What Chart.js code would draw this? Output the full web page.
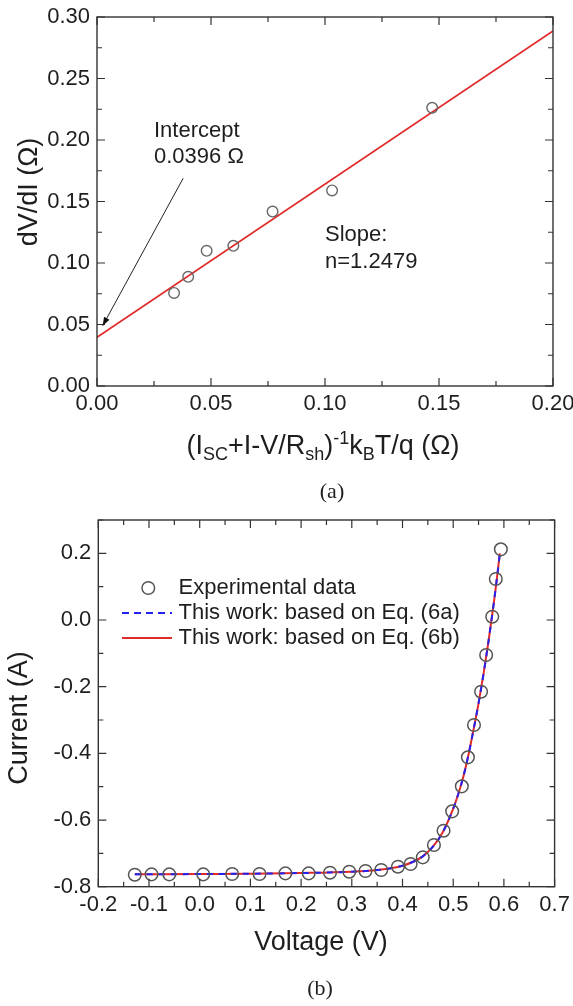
<!DOCTYPE html>
<html><head><meta charset="utf-8">
<script src="https://cdn.jsdelivr.net/npm/chart.js@4.4.0/dist/chart.umd.min.js"></script>
<style>
html,body{margin:0;padding:0;background:#fff;}
body{width:573px;height:1006px;position:relative;overflow:hidden;}
#c1{position:absolute;left:0;top:0;}
#c2{position:absolute;left:0;top:500px;}
</style></head><body>
<canvas id="c1" width="573" height="510"></canvas>
<canvas id="c2" width="573" height="506"></canvas>
<script>
// ---------- Data: panel (a) ----------
const slopePtsX = [0.0338, 0.0400, 0.0481, 0.0598, 0.0770, 0.1031, 0.1470];
const slopePtsY = [0.0757, 0.0888, 0.1099, 0.1140, 0.1418, 0.1590, 0.2262];
const slopeFitX = [0.0, 0.2];
const slopeFitY = [0.0396, 0.2887];
const aXTicks = [0, 0.05, 0.10, 0.15, 0.20];
const aXTickLabels = ['0.00', '0.05', '0.10', '0.15', '0.20'];
const aYTicks = [0, 0.05, 0.10, 0.15, 0.20, 0.25, 0.30];
const aYTickLabels = ['0.00', '0.05', '0.10', '0.15', '0.20', '0.25', '0.30'];
const noteIntercept = ['Intercept', '0.0396 \u03A9'];
const noteSlope = ['Slope:', 'n=1.2479'];

// ---------- Data: panel (b) ----------
const expV = [-0.128, -0.095, -0.060, 0.007, 0.064, 0.118, 0.169, 0.215, 0.257, 0.295, 0.327, 0.358, 0.391, 0.416, 0.440, 0.462, 0.481, 0.498, 0.517, 0.529, 0.541, 0.555, 0.565, 0.577, 0.584, 0.594];
const expI = [-0.764, -0.763, -0.763, -0.763, -0.762, -0.762, -0.760, -0.760, -0.758, -0.755, -0.753, -0.750, -0.740, -0.732, -0.712, -0.675, -0.632, -0.574, -0.499, -0.412, -0.315, -0.215, -0.105, 0.010, 0.123, 0.212];
const fitV = [-0.128, 0.0, 0.1, 0.2, 0.3, 0.35, 0.38, 0.40, 0.42, 0.44, 0.46, 0.48, 0.50, 0.51, 0.52, 0.53, 0.54, 0.55, 0.56, 0.57, 0.58, 0.585, 0.592];
const fit6a = [-0.763, -0.762, -0.761, -0.759, -0.755, -0.750, -0.744, -0.737, -0.726, -0.709, -0.680, -0.635, -0.566, -0.522, -0.470, -0.405, -0.330, -0.250, -0.160, -0.060, 0.050, 0.110, 0.200];
const fit6b = [-0.763, -0.762, -0.761, -0.759, -0.755, -0.750, -0.744, -0.737, -0.726, -0.709, -0.680, -0.635, -0.566, -0.522, -0.470, -0.405, -0.330, -0.250, -0.160, -0.060, 0.050, 0.110, 0.200];
const bXTicks = [-0.2, -0.1, 0.0, 0.1, 0.2, 0.3, 0.4, 0.5, 0.6, 0.7];
const bXTickLabels = ['-0.2', '-0.1', '0.0', '0.1', '0.2', '0.3', '0.4', '0.5', '0.6', '0.7'];
const bYTicks = [-0.8, -0.6, -0.4, -0.2, 0.0, 0.2];
const bYTickLabels = ['-0.8', '-0.6', '-0.4', '-0.2', '0.0', '0.2'];
const legendLabels = ['Experimental data', 'This work: based on Eq. (6a)', 'This work: based on Eq. (6b)'];

// ---------- Layout / style (not data) ----------
const SANS = '"Liberation Sans", Arial, sans-serif';
const SERIF = '"Liberation Serif", "Times New Roman", serif';
const TXT = '#1e1e1e';
const annoA = {
  arrowFrom: [0.0378, 0.1689], arrowTo: [0.0025, 0.0490],
  intercept: [0.025, 0.2073, 0.1864],
  slope: [0.1, 0.1228, 0.1011]
};

function pts(xs, ys) { return xs.map((x, i) => ({x: x, y: ys[i]})); }
function labelFor(ticks, labels) {
  return function (v) {
    for (let i = 0; i < ticks.length; i++) if (Math.abs(v - ticks[i]) < 1e-7) return labels[i];
    return '';
  };
}
function isMajor(ticks, v) {
  return ticks.some(t => Math.abs(v - t) < 1e-7);
}

function drawFrame(chart, xMaj, yMaj) {
  const ctx = chart.ctx, a = chart.chartArea;
  const xs = chart.scales.x, ys = chart.scales.y;
  ctx.save();
  ctx.strokeStyle = '#333';
  ctx.lineWidth = 1.4;
  ctx.strokeRect(a.left, a.top, a.right - a.left, a.bottom - a.top);
  ctx.lineWidth = 1.2;
  ctx.beginPath();
  xs.ticks.forEach(t => {
    const p = xs.getPixelForValue(t.value);
    const L = isMajor(xMaj, t.value) ? 8 : 5;
    ctx.moveTo(p, a.bottom); ctx.lineTo(p, a.bottom - L);
    ctx.moveTo(p, a.top); ctx.lineTo(p, a.top + L);
  });
  ys.ticks.forEach(t => {
    const p = ys.getPixelForValue(t.value);
    const L = isMajor(yMaj, t.value) ? 8 : 5;
    ctx.moveTo(a.left, p); ctx.lineTo(a.left + L, p);
    ctx.moveTo(a.right, p); ctx.lineTo(a.right - L, p);
  });
  ctx.stroke();
  ctx.restore();
}

function rotText(ctx, text, x, y) {
  ctx.save();
  ctx.translate(x, y);
  ctx.rotate(-Math.PI / 2);
  ctx.textAlign = 'center';
  ctx.textBaseline = 'middle';
  ctx.fillText(text, 0, 0);
  ctx.restore();
}

// rich text with sub/superscripts: parts [text, mode]
function richText(ctx, parts, cx, y, big, small) {
  let w = 0;
  parts.forEach(p => {
    ctx.font = (p[1] === 'n' ? big : small) + 'px ' + SANS;
    w += ctx.measureText(p[0]).width;
  });
  let x = cx - w / 2;
  ctx.textAlign = 'left';
  ctx.textBaseline = 'alphabetic';
  parts.forEach(p => {
    ctx.font = (p[1] === 'n' ? big : small) + 'px ' + SANS;
    let dy = 0;
    if (p[1] === 'sub') dy = 6;
    if (p[1] === 'sup') dy = -10;
    ctx.fillText(p[0], x, y + dy);
    x += ctx.measureText(p[0]).width;
  });
}

const tickFont = {family: SANS, size: 22};

function axisCommon(min, max, step, ticks, labels, isX, size, pad) {
  return {
    type: 'linear', min: min, max: max,
    grid: {display: false, drawTicks: false},
    border: {display: false},
    ticks: {
      stepSize: step, autoSkip: false, maxRotation: 0, minRotation: 0, maxTicksLimit: 200,
      font: tickFont, color: TXT, padding: pad,
      callback: labelFor(ticks, labels)
    },
    afterFit: function (s) {
      if (isX) { s.height = size; s.paddingLeft = 0; s.paddingRight = 0; }
      else { s.width = size; s.paddingTop = 0; s.paddingBottom = 0; }
    }
  };
}

// ---------- Chart (a) ----------
const pluginA = {
  id: 'panelA',
  afterDraw(chart) {
    const ctx = chart.ctx, a = chart.chartArea;
    const xs = chart.scales.x, ys = chart.scales.y;
    drawFrame(chart, aXTicks, aYTicks);
    ctx.save();
    ctx.fillStyle = TXT;
    ctx.font = '22px ' + SANS;
    ctx.textAlign = 'left';
    ctx.textBaseline = 'middle';
    ctx.fillText(noteIntercept[0], xs.getPixelForValue(annoA.intercept[0]), ys.getPixelForValue(annoA.intercept[1]));
    ctx.fillText(noteIntercept[1], xs.getPixelForValue(annoA.intercept[0]), ys.getPixelForValue(annoA.intercept[2]));
    ctx.fillText(noteSlope[0], xs.getPixelForValue(annoA.slope[0]), ys.getPixelForValue(annoA.slope[1]));
    ctx.fillText(noteSlope[1], xs.getPixelForValue(annoA.slope[0]), ys.getPixelForValue(annoA.slope[2]));
    // arrow
    const x1 = xs.getPixelForValue(annoA.arrowFrom[0]), y1 = ys.getPixelForValue(annoA.arrowFrom[1]);
    const x2 = xs.getPixelForValue(annoA.arrowTo[0]), y2 = ys.getPixelForValue(annoA.arrowTo[1]);
    ctx.strokeStyle = '#222'; ctx.lineWidth = 1;
    ctx.beginPath(); ctx.moveTo(x1, y1); ctx.lineTo(x2, y2); ctx.stroke();
    const ang = Math.atan2(y2 - y1, x2 - x1);
    ctx.fillStyle = '#111';
    ctx.beginPath();
    ctx.moveTo(x2, y2);
    ctx.lineTo(x2 - 9 * Math.cos(ang - 0.35), y2 - 9 * Math.sin(ang - 0.35));
    ctx.lineTo(x2 - 9 * Math.cos(ang + 0.35), y2 - 9 * Math.sin(ang + 0.35));
    ctx.closePath(); ctx.fill();
    // titles
    ctx.fillStyle = TXT;
    ctx.font = '27px ' + SANS;
    rotText(ctx, 'dV/dI (\u03A9)', 30, 192);
    richText(ctx, [['(I', 'n'], ['SC', 'sub'], ['+I-V/R', 'n'], ['sh', 'sub'], [')', 'n'], ['-1', 'sup'], ['k', 'n'], ['B', 'sub'], ['T/q (\u03A9)', 'n']],
      (a.left + a.right) / 2 - 2, 454, 27, 18);
    ctx.font = '22px ' + SERIF;
    ctx.textAlign = 'center'; ctx.textBaseline = 'middle';
    ctx.fillText('(a)', 332, 492);
    ctx.restore();
  }
};

new Chart(document.getElementById('c1'), {
  type: 'scatter',
  data: {
    datasets: [
      {data: pts(slopePtsX, slopePtsY), showLine: false, pointRadius: 5.3, pointHoverRadius: 5.3,
        pointBorderColor: '#666', pointBackgroundColor: 'rgba(0,0,0,0)', pointBorderWidth: 1.4, order: 1},
      {data: pts(slopeFitX, slopeFitY), showLine: true, pointRadius: 0, borderColor: '#e02a2a',
        borderWidth: 1.7, order: 2}
    ]
  },
  options: {
    responsive: false, animation: false, devicePixelRatio: 1,
    layout: {padding: {top: 17, right: 20, left: 0, bottom: 0}},
    plugins: {legend: {display: false}, tooltip: {enabled: false}},
    scales: {
      x: axisCommon(0, 0.2, 0.025, aXTicks, aXTickLabels, true, 124, 5),
      y: axisCommon(0, 0.3, 0.025, aYTicks, aYTickLabels, false, 97, 7)
    }
  },
  plugins: [pluginA]
});

// ---------- Chart (b) ----------
const pluginB = {
  id: 'panelB',
  afterDraw(chart) {
    const ctx = chart.ctx, a = chart.chartArea;
    drawFrame(chart, bXTicks, bYTicks);
    ctx.save();
    // legend
    ctx.strokeStyle = '#555'; ctx.lineWidth = 1.5;
    ctx.beginPath(); ctx.arc(148.3, 88, 6.3, 0, Math.PI * 2); ctx.stroke();
    ctx.strokeStyle = '#2222ee'; ctx.lineWidth = 2; ctx.setLineDash([7, 5]);
    ctx.beginPath(); ctx.moveTo(122, 113); ctx.lineTo(172, 113); ctx.stroke();
    ctx.setLineDash([]);
    ctx.strokeStyle = '#e02a2a';
    ctx.beginPath(); ctx.moveTo(122, 138); ctx.lineTo(172, 138); ctx.stroke();
    ctx.fillStyle = TXT;
    ctx.font = '22px ' + SANS;
    ctx.textAlign = 'left'; ctx.textBaseline = 'middle';
    ctx.fillText(legendLabels[0], 178.5, 88);
    ctx.fillText(legendLabels[1], 178.5, 113);
    ctx.fillText(legendLabels[2], 178.5, 138);
    // titles
    ctx.font = '27px ' + SANS;
    rotText(ctx, 'Current (A)', 20, 218);
    ctx.textAlign = 'center'; ctx.textBaseline = 'middle';
    ctx.fillText('Voltage (V)', 321, 443);
    ctx.font = '22px ' + SERIF;
    ctx.fillText('(b)', 320, 489);
    ctx.restore();
  }
};

new Chart(document.getElementById('c2'), {
  type: 'scatter',
  data: {
    datasets: [
      {data: pts(expV, expI), showLine: false, pointRadius: 6.3, pointHoverRadius: 6.3,
        pointBorderColor: '#555', pointBackgroundColor: 'rgba(0,0,0,0)', pointBorderWidth: 1.5, order: 1},
      {data: pts(fitV, fit6a), showLine: true, pointRadius: 0, borderColor: '#2222ee', borderWidth: 2,
        borderDash: [6, 6], cubicInterpolationMode: 'monotone', order: 2},
      {data: pts(fitV, fit6b), showLine: true, pointRadius: 0, borderColor: '#e02a2a', borderWidth: 2,
        cubicInterpolationMode: 'monotone', order: 3}
    ]
  },
  options: {
    responsive: false, animation: false, devicePixelRatio: 1,
    layout: {padding: {top: 20, right: 18.4, left: 0, bottom: 0}},
    plugins: {legend: {display: false}, tooltip: {enabled: false}},
    scales: {
      x: axisCommon(-0.2, 0.7, 0.05, bXTicks, bXTickLabels, true, 119.3, 5),
      y: axisCommon(-0.8, 0.3, 0.1, bYTicks, bYTickLabels, false, 98.3, 7)
    }
  },
  plugins: [pluginB]
});
</script>
</body></html>
